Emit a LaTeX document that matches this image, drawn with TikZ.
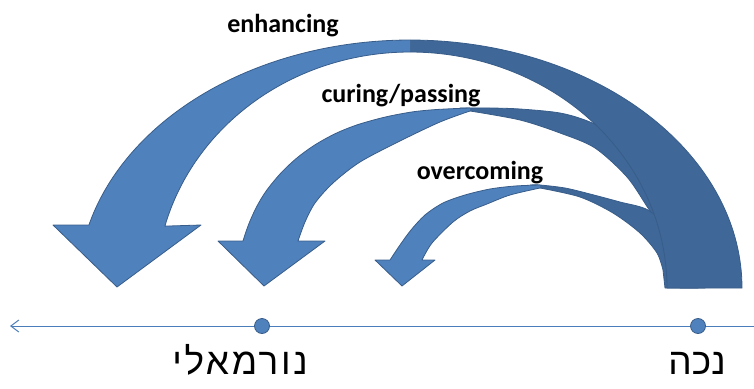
\documentclass[tikz,border=0pt]{standalone}
\usepackage{fontspec}
\setmainfont{Carlito}
\newfontfamily\hebfont[Script=Hebrew]{Liberation Sans}
\newfontfamily\hebwide[Script=Hebrew,LetterSpace=7]{Liberation Sans}
\TeXXeTstate=1
\usetikzlibrary{arrows.meta}
\definecolor{lightblue}{HTML}{4F81BD}
\definecolor{darkblue}{HTML}{3F6797}
\definecolor{edgeblue}{HTML}{385D8A}
\definecolor{axisblue}{HTML}{4A7EBB}
\begin{document}
\begin{tikzpicture}[x=1pt,y=-1pt,
  light/.style={fill=lightblue, draw=edgeblue, line width=0.8pt, line join=round},
  dark/.style={fill=darkblue, draw=edgeblue, line width=0.8pt, line join=round},
  lbl/.style={font=\fontsize{26}{30}\selectfont\bfseries, anchor=base, inner sep=0pt},
  heb/.style={font=\fontsize{37}{40}\selectfont\hebfont, anchor=base, inner sep=0pt},
  hebw/.style={font=\fontsize{37}{40}\selectfont\hebwide, anchor=base, inner sep=0pt},
  dot/.style={circle, fill=lightblue, draw=edgeblue, line width=0.8pt, minimum size=15pt, inner sep=0pt},
  axis/.style={draw=axisblue, line width=1pt}]
\useasboundingbox (0,0) rectangle (754,388);

% curing/passing arrow (open paths: the light/dark junction is not stroked)
\draw[dark] plot[smooth] coordinates {(460,108) (490,108) (520,109) (560,113) (590,122) (630,142) (668,180) (692,225) (705,288)}
  -- (680,288)
  -- plot[smooth] coordinates {(672,258) (664,232) (648,208) (627,177) (595,148) (560,133) (520,120) (470,111)};
\draw[light] plot[smooth] coordinates {(470,111) (440,122) (400,141) (360,162) (333,183) (315,203) (305,222) (298,241)}
  -- (325,241) -- (264,286) -- (218,241)
  -- plot[smooth, tension=0.7] coordinates {(243,241) (250,221) (261,199) (274,181) (289,165) (306,151) (325,139) (346,129) (370,121) (400,114) (430,110) (470,108)};

% overcoming arrow
\draw[dark] plot[smooth] coordinates {(530,185) (540,185) (565,188) (590,194) (620,202) (648,210) (672,232) (690,262) (698,288)}
  -- (665,288)
  -- plot[smooth] coordinates {(663,270) (657,253) (640,233) (613,213) (580,197) (540,188)};
\draw[light] plot[smooth] coordinates {(540,188) (510,195) (487,204) (470,211) (453,222) (432,243) (422,260)}
  -- (435,260) -- (402,286) -- (375,260)
  -- plot[smooth] coordinates {(390,260) (400,245) (411,230) (425,215) (443,203) (465,195) (490,189) (515,186) (540,185)};

% enhancing arrow
\draw[dark] plot[domain=90:0, samples=70] ({410+332*cos(\x)},{288-248*sin(\x)})
  -- plot[domain=0:90, samples=70] ({410+257*cos(\x)},{288-236*sin(\x)});
\draw[light] plot[domain=90:164.8, samples=70] ({410+254*cos(\x)},{288-236*sin(\x)})
  -- (201,225) -- (117,287) -- (53,225)
  -- plot[domain=165.3:90, samples=70] ({410+332*cos(\x)},{288-248*sin(\x)});

% labels
\node[lbl] (enh) at (283,32) {enhancing};
\node[lbl] (cur) at (401,102) {curing/passing};
\node[lbl] (ove) at (480,179) {overcoming};

% axis
\coordinate (axR) at (754,326);
\coordinate (axL) at (10,326);
\draw[axis, -{Straight Barb[length=8pt,width=12pt]}] (axR) -- (axL);
\node[dot] (normal) at (262,326) {};
\node[dot] (disabled) at (698,326) {};
\node[hebw] (normtxt) at (240,374) {\beginR נורמאלי\endR};
\node[heb] (distxt) at (697,374) {\beginR נכה\endR};
\end{tikzpicture}
\end{document}
